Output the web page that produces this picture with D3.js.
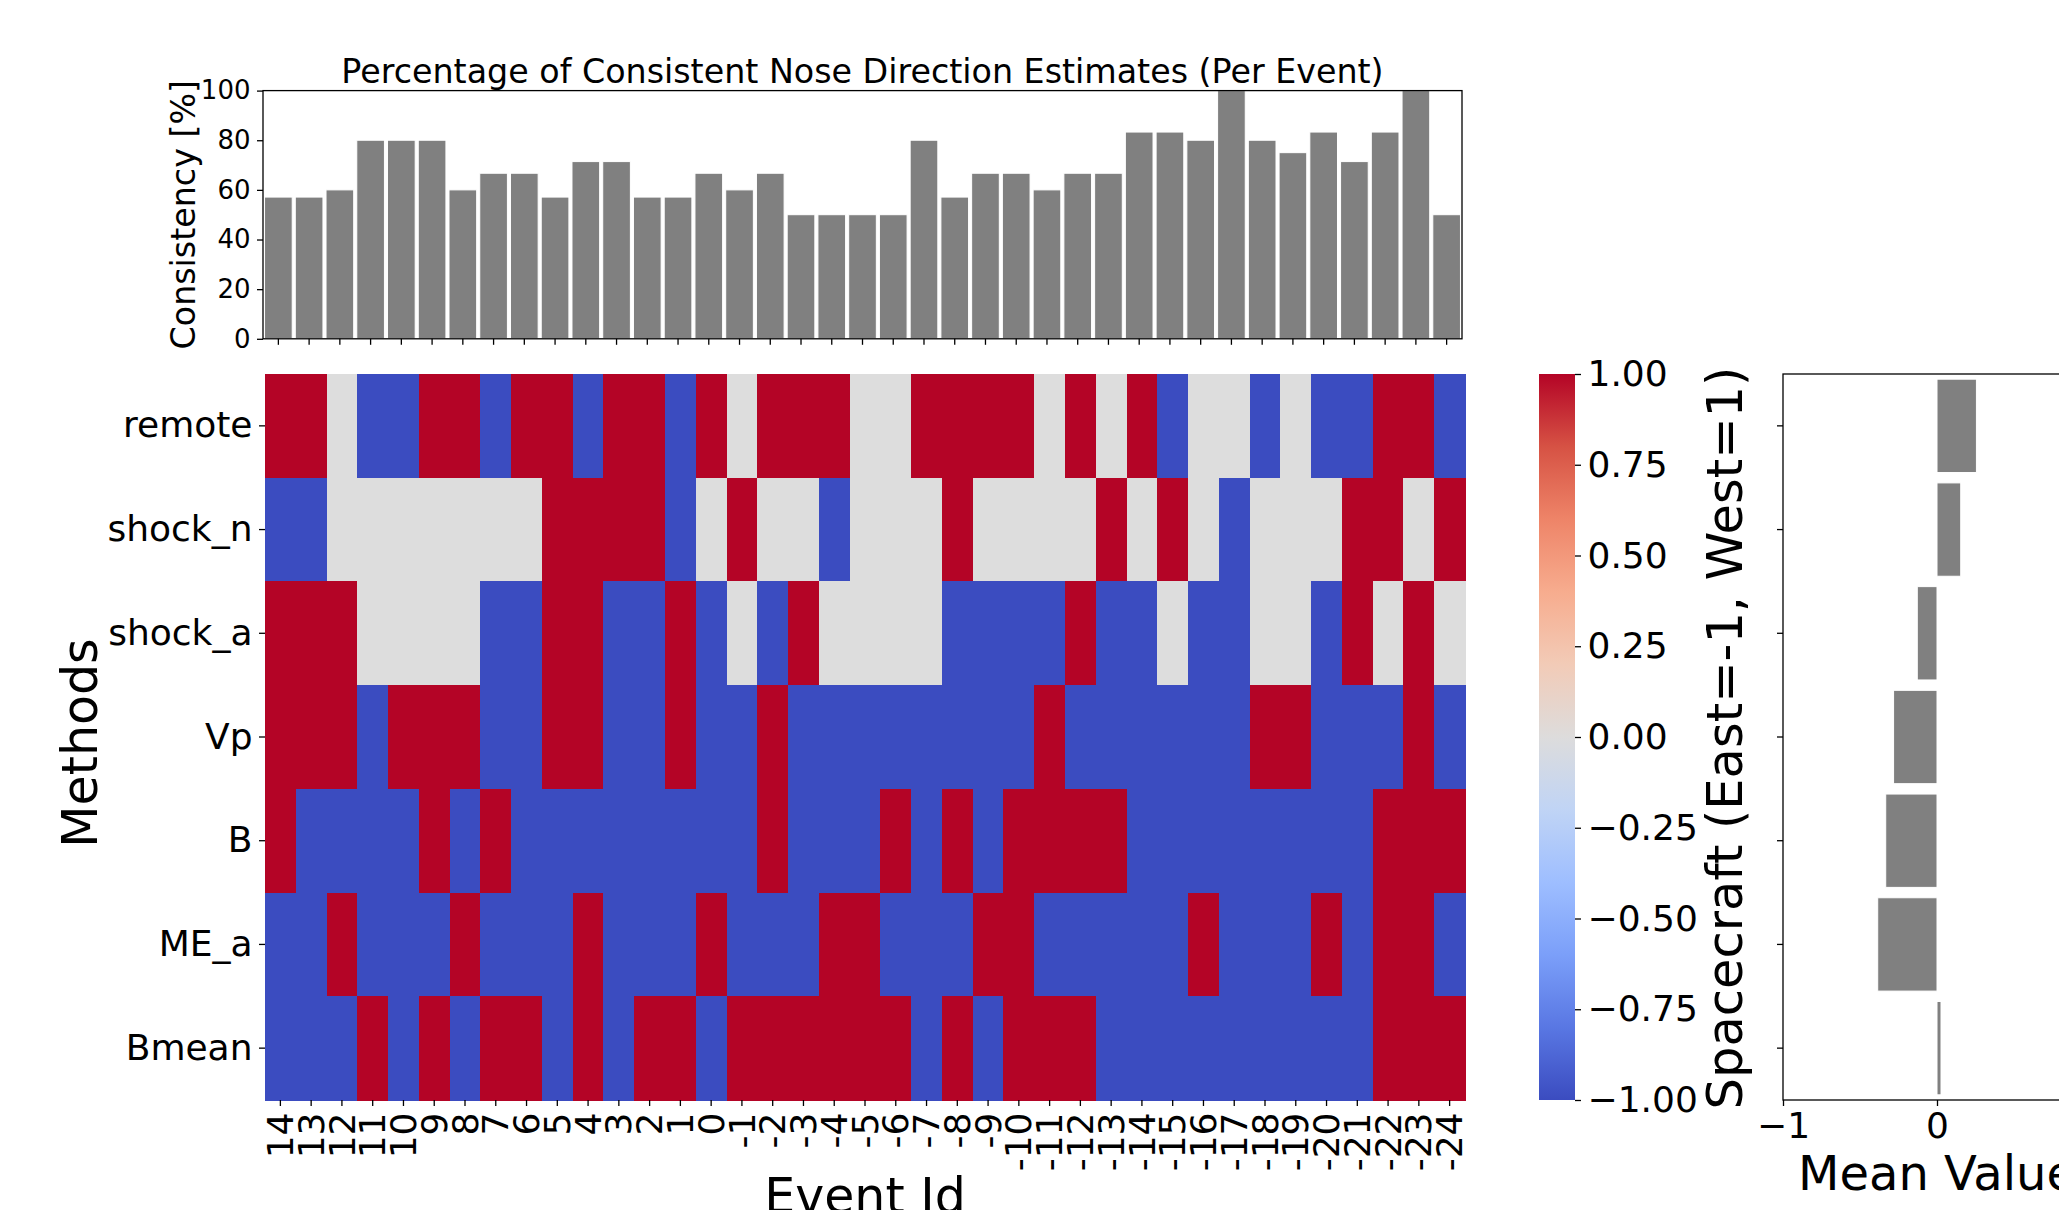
<!DOCTYPE html>
<html>
<head>
<meta charset="utf-8">
<script src="https://cdn.jsdelivr.net/npm/d3@7/dist/d3.min.js"></script>
<style>
  html, body { margin: 0; padding: 0; background: #fff; overflow: hidden; }
  svg { display: block; }
  text { font-family: "DejaVu Sans", sans-serif; fill: #000; }
</style>
</head>
<body>
<svg id="chart" width="2059" height="1210"></svg>
<script>
// ---------------- DATA ----------------
const events = ["14","13","12","11","10","9","8","7","6","5","4","3","2","1","0",
  "-1","-2","-3","-4","-5","-6","-7","-8","-9","-10","-11","-12","-13","-14","-15",
  "-16","-17","-18","-19","-20","-21","-22","-23","-24"];
const methods = ["remote","shock_n","shock_a","Vp","B","ME_a","Bmean"];

// direction per event (East=-1, West=1, 0 = undetermined)
const remote  = [1,1,0,-1,-1, 1,1,-1,1,1, -1,1,1,-1,1, 0,1,1,1,0, 0,1,1,1,1, 0,1,0,1,-1, 0,0,-1,0,-1, -1,1,1,-1];
const shock_n = [-1,-1,0,0,0, 0,0,0,0,1, 1,1,1,-1,0, 1,0,0,-1,0, 0,0,1,0,0, 0,0,1,0,1, 0,-1,0,0,0, 1,1,0,1];
const shock_a = [1,1,1,0,0, 0,0,-1,-1,1, 1,-1,-1,1,-1, 0,-1,1,0,0, 0,0,-1,-1,-1, -1,1,-1,-1,0, -1,-1,0,0,-1, 1,0,1,0];
const Vp      = [1,1,1,-1,1, 1,1,-1,-1,1, 1,-1,-1,1,-1, -1,1,-1,-1,-1, -1,-1,-1,-1,-1, 1,-1,-1,-1,-1, -1,-1,1,1,-1, -1,-1,1,-1];
const B       = [1,-1,-1,-1,-1, 1,-1,1,-1,-1, -1,-1,-1,-1,-1, -1,1,-1,-1,-1, 1,-1,1,-1,1, 1,1,1,-1,-1, -1,-1,-1,-1,-1, -1,1,1,1];
const ME_a    = [-1,-1,1,-1,-1, -1,1,-1,-1,-1, 1,-1,-1,-1,1, -1,-1,-1,1,1, -1,-1,-1,1,1, -1,-1,-1,-1,-1, 1,-1,-1,-1,1, -1,1,1,-1];
const Bmean   = [-1,-1,-1,1,-1, 1,-1,1,1,-1, 1,-1,1,1,-1, 1,1,1,1,1, 1,-1,1,-1,1, 1,1,-1,-1,-1, -1,-1,-1,-1,-1, -1,1,1,1];

// consistency per event [%]
const consistency = [57.1,57.1,60,80,80, 80,60,66.7,66.7,57.1, 71.4,71.4,57.1,57.1,66.7,
  60,66.7,50,50,50, 50,80,57.1,66.7,66.7, 60,66.7,66.7,83.3,83.3, 80,100,80,75,83.3, 71.4,83.3,100,50];

// mean value per method
const meanValues = [0.256, 0.154, -0.128, -0.282, -0.333, -0.385, 0.026];

// tick labels
const consistencyTicks = [0,20,40,60,80,100];
const colorbarTicks = [1.00,0.75,0.50,0.25,0.00,-0.25,-0.50,-0.75,-1.00];
const meanTicks = [-1,0,1];

// coolwarm colormap samples
const coolwarm = ['#3b4cc0','#5977e3','#7b9ff9','#9ebeff','#c0d4f5','#dddcdc','#f2cbb7','#f7ac8e','#ee8468','#d65244','#b40426'];

// ---------------- DRAW ----------------
const svg = d3.select("#chart");
const rows = [remote, shock_n, shock_a, Vp, B, ME_a, Bmean];
const cells = [];
rows.forEach((r, i) => r.forEach((v, j) => cells.push({m: methods[i], e: events[j], v: v})));

const TICK_FS = 36, LABEL_FS = 49, TITLE_FS = 33.3, BAR_TICK_FS = 26;
const TL = 6, TP = 6.5;   // tick length, pad
const SW = 1.3;           // spine width

const interp = d3.interpolateRgbBasis(coolwarm);
const color = v => interp((v + 1) / 2);

// ---- Heatmap ----
const hm = {x0: 265, x1: 1465, y0: 374, y1: 1100};
const hx = d3.scaleBand().domain(events).range([hm.x0, hm.x1]);
const hy = d3.scaleBand().domain(methods).range([hm.y0, hm.y1]);

svg.append("g").selectAll("rect").data(cells).join("rect")
  .attr("x", d => hx(d.e)).attr("y", d => hy(d.m))
  .attr("width", hx.bandwidth() + 0.5).attr("height", hy.bandwidth() + 0.5)
  .attr("fill", d => d.v === 0 ? "#dddddd" : color(d.v))
  .attr("shape-rendering", "crispEdges");

const hxAxis = svg.append("g").attr("transform", `translate(0,${hm.y1})`)
  .call(d3.axisBottom(hx).tickSize(TL).tickPadding(TP));
hxAxis.select(".domain").remove();
hxAxis.selectAll("text")
  .attr("font-size", TICK_FS)
  .attr("transform", "rotate(-90)")
  .attr("text-anchor", "end")
  .attr("x", -(TL + TP)).attr("y", 0).attr("dy", "0.35em");

const hyAxis = svg.append("g").attr("transform", `translate(${hm.x0},0)`)
  .call(d3.axisLeft(hy).tickSize(TL).tickPadding(TP));
hyAxis.select(".domain").remove();
hyAxis.selectAll("text").attr("font-size", TICK_FS);

svg.append("text").attr("font-size", LABEL_FS)
  .attr("transform", `translate(97,${(hm.y0 + hm.y1) / 2 + 6}) rotate(-90)`)
  .attr("text-anchor", "middle").text("Methods");
svg.append("text").attr("font-size", LABEL_FS)
  .attr("x", (hm.x0 + hm.x1) / 2).attr("y", 1213)
  .attr("text-anchor", "middle").text("Event Id");

// ---- Consistency bar chart ----
const bc = {x0: 263, x1: 1462, y0: 90.6, y1: 338.8};
const bx = d3.scaleBand().domain(events).range([bc.x0, bc.x1]).paddingInner(0.1).paddingOuter(0.05);
const by = d3.scaleLinear().domain([0, 100]).range([bc.y1, bc.y0]);

svg.append("g").selectAll("rect").data(consistency).join("rect")
  .attr("x", (d, i) => bx(events[i])).attr("width", bx.bandwidth())
  .attr("y", d => by(d)).attr("height", d => by(0) - by(d))
  .attr("fill", "#808080").attr("stroke", "#ffffff").attr("stroke-width", 1);

const bxAxis = svg.append("g").attr("transform", `translate(0,${bc.y1})`)
  .call(d3.axisBottom(bx).tickSize(TL).tickFormat(""));
bxAxis.select(".domain").remove();
const byAxis = svg.append("g").attr("transform", `translate(${bc.x0},0)`)
  .call(d3.axisLeft(by).tickValues(consistencyTicks).tickSize(TL).tickPadding(TP));
byAxis.select(".domain").remove();
byAxis.selectAll("text").attr("font-size", BAR_TICK_FS);
svg.append("rect").attr("x", bc.x0).attr("y", bc.y0)
  .attr("width", bc.x1 - bc.x0).attr("height", bc.y1 - bc.y0)
  .attr("fill", "none").attr("stroke", "#000").attr("stroke-width", SW);

svg.append("text").attr("font-size", TITLE_FS)
  .attr("x", (bc.x0 + bc.x1) / 2).attr("y", 82.5)
  .attr("text-anchor", "middle").text("Percentage of Consistent Nose Direction Estimates (Per Event)");
svg.append("text").attr("font-size", TITLE_FS)
  .attr("transform", `translate(195,${(bc.y0 + bc.y1) / 2}) rotate(-90)`)
  .attr("text-anchor", "middle").text("Consistency [%]");

// ---- Colorbar ----
const cb = {x0: 1539, x1: 1575, y0: 374, y1: 1100};
const grad = svg.append("defs").append("linearGradient").attr("id", "cw")
  .attr("x1", 0).attr("y1", 1).attr("x2", 0).attr("y2", 0);
coolwarm.forEach((c, i) => grad.append("stop")
  .attr("offset", i / (coolwarm.length - 1)).attr("stop-color", c));
svg.append("rect").attr("x", cb.x0).attr("y", cb.y0)
  .attr("width", cb.x1 - cb.x0).attr("height", cb.y1 - cb.y0).attr("fill", "url(#cw)");
const cy = d3.scaleLinear().domain([-1, 1]).range([cb.y1, cb.y0]);
const cbAxis = svg.append("g").attr("transform", `translate(${cb.x1},0)`)
  .call(d3.axisRight(cy).tickValues(colorbarTicks).tickSize(TL).tickPadding(TP)
    .tickFormat(d => d3.format(".2f")(d).replace("-", "\u2212")));
cbAxis.select(".domain").remove();
cbAxis.selectAll("text").attr("font-size", TICK_FS);
svg.append("text").attr("font-size", 49.5)
  .attr("transform", `translate(1742,${(cb.y0 + cb.y1) / 2 + 1}) rotate(-90)`)
  .attr("text-anchor", "middle").text("Spacecraft (East=-1, West=1)");

// ---- Mean value panel ----
const mp = {x0: 1783, x1: 2091, y0: 374, y1: 1100};
const mx = d3.scaleLinear().domain([-1, 1]).range([mp.x0, mp.x1]);
const my = d3.scaleBand().domain(methods).range([mp.y0, mp.y1]).paddingInner(0.1).paddingOuter(0.05);
svg.append("g").selectAll("rect").data(meanValues).join("rect")
  .attr("y", (d, i) => my(methods[i])).attr("height", my.bandwidth())
  .attr("x", d => mx(Math.min(0, d))).attr("width", d => Math.abs(mx(d) - mx(0)))
  .attr("fill", "#808080").attr("stroke", "#ffffff").attr("stroke-width", 1);
const mxAxis = svg.append("g").attr("transform", `translate(0,${mp.y1})`)
  .call(d3.axisBottom(mx).tickValues(meanTicks).tickSize(TL).tickPadding(TP)
    .tickFormat(d => String(d).replace("-", "\u2212")));
mxAxis.select(".domain").remove();
mxAxis.selectAll("text").attr("font-size", TICK_FS);
const myAxis = svg.append("g").attr("transform", `translate(${mp.x0},0)`)
  .call(d3.axisLeft(my).tickSize(TL).tickFormat(""));
myAxis.select(".domain").remove();
svg.append("rect").attr("x", mp.x0).attr("y", mp.y0)
  .attr("width", mp.x1 - mp.x0).attr("height", mp.y1 - mp.y0)
  .attr("fill", "none").attr("stroke", "#000").attr("stroke-width", SW);
svg.append("text").attr("font-size", 48)
  .attr("x", (mp.x0 + mp.x1) / 2).attr("y", 1190)
  .attr("text-anchor", "middle").text("Mean Value");

svg.selectAll(".tick line").attr("stroke", "#000").attr("stroke-width", SW);
</script>
</body>
</html>
